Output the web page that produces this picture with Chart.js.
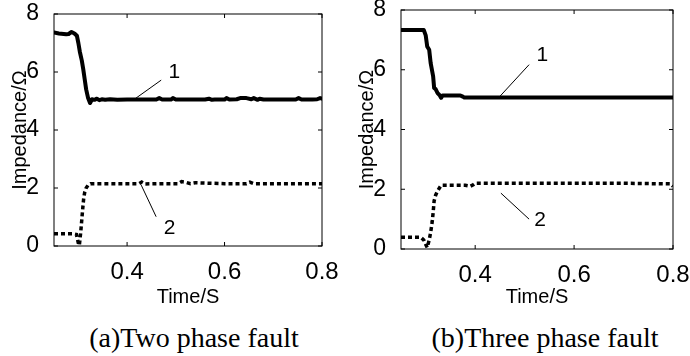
<!DOCTYPE html>
<html>
<head>
<meta charset="utf-8">
<script src="https://cdn.jsdelivr.net/npm/chart.js@4"></script>
<style>
  body { margin: 0; background: #fff; width: 690px; height: 356px; overflow: hidden; position: relative; }
  .box { position: absolute; top: 0; width: 345px; height: 310px; }
  .cap { position: absolute; top: 324px; font-family: "Liberation Serif", "Times New Roman", serif;
         font-size: 28px; line-height: 28px; white-space: nowrap; transform: translateX(-50%); color: #000; }
</style>
</head>
<body>
<div class="box" style="left:0"><canvas id="c1"></canvas></div>
<div class="box" style="left:345px"><canvas id="c2"></canvas></div>
<div class="cap" style="left:194px">(a)Two phase fault</div>
<div class="cap" style="left:545px">(b)Three phase fault</div>
<script>
// axis ticks
const xTicks = [0.4, 0.6, 0.8];
const yTicks = [0, 2, 4, 6, 8];

// (a) two phase fault, curve 1
const tTwo1 = [0.25, 0.26, 0.27, 0.275, 0.28, 0.286, 0.292, 0.297, 0.300, 0.303,
               0.307, 0.310, 0.313, 0.316, 0.320, 0.324, 0.328, 0.333, 0.338, 0.343,
               0.348, 0.355, 0.365, 0.38, 0.40, 0.42, 0.44, 0.46, 0.466, 0.472,
               0.49, 0.494, 0.50, 0.53, 0.56, 0.568, 0.574, 0.58, 0.60, 0.604,
               0.61, 0.625, 0.632, 0.645, 0.655, 0.66, 0.668, 0.672, 0.68, 0.72,
               0.746, 0.752, 0.758, 0.78, 0.79, 0.796, 0.80];
const zTwo1 = [7.36, 7.33, 7.31, 7.30, 7.31, 7.38, 7.33, 7.25, 7.0, 6.7,
               6.4, 6.1, 5.75, 5.4, 5.1, 4.93, 5.06, 5.04, 5.08, 5.03,
               5.06, 5.04, 5.06, 5.04, 5.05, 5.05, 5.05, 5.05, 5.1, 5.05,
               5.05, 5.1, 5.05, 5.05, 5.05, 5.08, 5.04, 5.05, 5.05, 5.1,
               5.05, 5.06, 5.1, 5.1, 5.06, 5.1, 5.04, 5.08, 5.05, 5.05,
               5.05, 5.1, 5.05, 5.05, 5.06, 5.1, 5.08];
// (a) curve 2
const tTwo2 = [0.25, 0.27, 0.29, 0.296, 0.300, 0.302, 0.305, 0.307, 0.309, 0.311,
               0.313, 0.316, 0.320, 0.325, 0.35, 0.40, 0.425, 0.43, 0.435, 0.47,
               0.505, 0.512, 0.52, 0.53, 0.54, 0.6, 0.645, 0.652, 0.66, 0.72, 0.8];
const zTwo2 = [0.42, 0.42, 0.42, 0.40, 0.1, 0.02, 0.5, 0.9, 1.3, 1.65,
               1.85, 2.0, 2.1, 2.15, 2.15, 2.15, 2.15, 2.2, 2.14, 2.15,
               2.15, 2.22, 2.2, 2.15, 2.18, 2.15, 2.15, 2.2, 2.15, 2.15, 2.15];

// (b) three phase fault, curve 1
const tThree1 = [0.25, 0.29, 0.296, 0.300, 0.303, 0.307, 0.310, 0.315, 0.317, 0.320,
                 0.324, 0.328, 0.331, 0.334, 0.35, 0.37, 0.375, 0.378, 0.5, 0.7, 0.8];
const zThree1 = [7.33, 7.33, 7.33, 7.15, 6.78, 6.67, 6.22, 5.78, 5.39, 5.35,
                 5.22, 5.15, 5.06, 5.14, 5.14, 5.14, 5.1, 5.07, 5.07, 5.07, 5.07];
// (b) curve 2
const tThree2 = [0.25, 0.29, 0.296, 0.300, 0.303, 0.307, 0.310, 0.313, 0.315, 0.317,
                 0.320, 0.324, 0.328, 0.331, 0.35, 0.38, 0.39, 0.396, 0.40, 0.5,
                 0.7, 0.795, 0.8];
const zThree2 = [0.39, 0.39, 0.3, 0.15, 0.05, 0.3, 0.56, 0.9, 1.22, 1.61,
                 1.8, 1.94, 2.05, 2.13, 2.13, 2.13, 2.1, 2.15, 2.2, 2.2,
                 2.2, 2.18, 2.1];

// curve labels and their leader lines
const labelText = ['1', '2'];
const labelTwoT = [0.497, 0.487];
const labelTwoZ = [6.0, 0.61];
const leadTwo1T = [0.470, 0.415];
const leadTwo1Z = [5.72, 5.06];
const leadTwo2T = [0.4596, 0.429];
const leadTwo2Z = [1.01, 2.10];
const labelThreeT = [0.536, 0.531];
const labelThreeZ = [6.5, 0.97];
const leadThree1T = [0.509, 0.450];
const leadThree1Z = [6.17, 5.11];
const leadThree2T = [0.509, 0.452];
const leadThree2Z = [1.0, 1.87];

const sans = '"Liberation Sans", Arial, sans-serif';
const pts = (ts, zs) => ts.map((t, i) => ({ x: t, y: zs[i] }));

const boxTicks = {
    id: 'boxTicks',
    afterDraw(chart, args, opts) {
        const { ctx, chartArea: a, scales: { x, y } } = chart;
        ctx.save();
        ctx.strokeStyle = '#000';
        ctx.lineWidth = 1;
        ctx.strokeRect(a.left, a.top, a.right - a.left, a.bottom - a.top);
        ctx.beginPath();
        xTicks.forEach(v => {
            const px = x.getPixelForValue(v);
            ctx.moveTo(px, a.bottom); ctx.lineTo(px, a.bottom - 4);
            ctx.moveTo(px, a.top); ctx.lineTo(px, a.top + 4);
        });
        yTicks.forEach(v => {
            const py = y.getPixelForValue(v);
            ctx.moveTo(a.left, py); ctx.lineTo(a.left + 4, py);
            ctx.moveTo(a.right, py); ctx.lineTo(a.right - 4, py);
        });
        ctx.stroke();
        ctx.fillStyle = '#000';
        ctx.font = '21px ' + sans;
        ctx.textAlign = 'center';
        ctx.textBaseline = 'middle';
        opts.text.forEach((s, i) => {
            ctx.fillText(s, x.getPixelForValue(opts.t[i]), y.getPixelForValue(opts.z[i]));
        });
        ctx.restore();
    }
};

function makeChart(id, c) {
    return new Chart(document.getElementById(id), {
        type: 'line',
        data: {
            datasets: [
                { data: pts(c.t1, c.z1), borderColor: '#000', borderWidth: 4, borderJoinStyle: 'round', borderCapStyle: 'round' },
                { data: pts(c.t2, c.z2), borderColor: '#000', borderWidth: 3.5, borderDash: [4, 3] },
                { data: pts(c.l1t, c.l1z), borderColor: '#000', borderWidth: 1 },
                { data: pts(c.l2t, c.l2z), borderColor: '#000', borderWidth: 1 }
            ]
        },
        options: {
            responsive: true,
            maintainAspectRatio: false,
            animation: false,
            layout: { padding: { top: c.top, right: c.right, left: 0, bottom: 0 } },
            elements: { point: { radius: 0 }, line: { tension: 0 } },
            plugins: {
                legend: { display: false },
                tooltip: { enabled: false },
                boxTicks: { text: labelText, t: c.lt, z: c.lz }
            },
            scales: {
                x: {
                    type: 'linear', min: 0.25, max: 0.8,
                    afterBuildTicks: s => { s.ticks = xTicks.map(v => ({ value: v })); },
                    afterFit: s => { s.height = c.xh; s.paddingLeft = 0; s.paddingRight = 0; },
                    grid: { display: false },
                    border: { display: false },
                    ticks: { color: '#000', padding: 4, maxRotation: 0, font: { family: sans, size: 24 } },
                    title: { display: true, text: 'Time/S', color: '#000', padding: { top: 0, bottom: 1 },
                             font: { family: sans, size: 20 } }
                },
                y: {
                    min: 0, max: 8,
                    afterBuildTicks: s => { s.ticks = yTicks.map(v => ({ value: v })); },
                    afterFit: s => { s.width = c.yw; s.paddingTop = 0; s.paddingBottom = 0; },
                    grid: { display: false },
                    border: { display: false },
                    ticks: { color: '#000', padding: 7, font: { family: sans, size: 23 } },
                    title: { display: true, text: 'Impedance/Ω', color: '#000', padding: { top: c.yp, bottom: 0 },
                             font: { family: sans, size: 20 } }
                }
            }
        },
        plugins: [boxTicks]
    });
}

makeChart('c1', {
    t1: tTwo1, z1: zTwo1, t2: tTwo2, z2: zTwo2,
    l1t: leadTwo1T, l1z: leadTwo1Z, l2t: leadTwo2T, l2z: leadTwo2Z,
    lt: labelTwoT, lz: labelTwoZ,
    top: 14, right: 23, xh: 64, yw: 54, yp: 8
});
makeChart('c2', {
    t1: tThree1, z1: zThree1, t2: tThree2, z2: zThree2,
    l1t: leadThree1T, l1z: leadThree1Z, l2t: leadThree2T, l2z: leadThree2Z,
    lt: labelThreeT, lz: labelThreeZ,
    top: 10, right: 17, xh: 61, yw: 56, yp: 10
});
</script>
</body>
</html>
